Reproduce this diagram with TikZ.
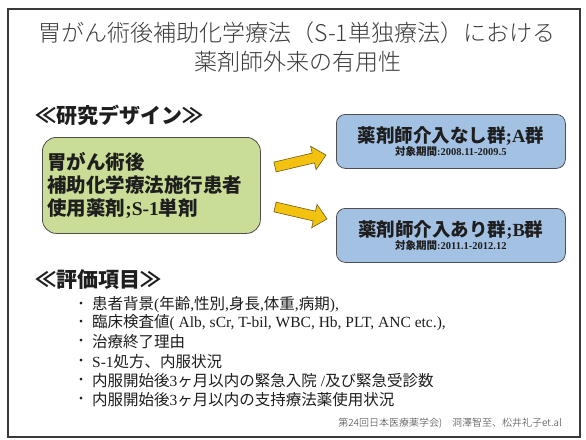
\documentclass[tikz,border=0pt]{standalone}
\usepackage{fontspec}
\setmainfont{Liberation Serif}
\newfontfamily\jp{Noto Sans CJK JP}
\newfontfamily\jplight{Noto Sans CJK JP Light}
\usetikzlibrary{calc}
\definecolor{framegray}{HTML}{3A3A3A}
\definecolor{boxborder}{HTML}{4F4F4F}
\definecolor{greenfill}{HTML}{C9DD96}
\definecolor{bluefill}{HTML}{A3C1E3}
\definecolor{arrowyellow}{HTML}{F3C20F}
\definecolor{arrowedge}{HTML}{6E5C1C}
\definecolor{textdark}{HTML}{1E1E1E}
\definecolor{textgray}{HTML}{3C3C3C}
\newcommand\lat[1]{{\rmfamily #1}}
\newcommand\J[1]{{\jp #1}}
\newcommand\fatarrowpath[2]{%
  \coordinate (h#2) at ($(#2)!13pt!(#1)$);
  \filldraw[fatarrow] ($(#1)!5pt!90:(#2)$) -- ($(h#2)!5pt!-90:(#1)$) -- ($(h#2)!12pt!-90:(#1)$) -- (#2) -- ($(h#2)!12pt!90:(#1)$) -- ($(h#2)!5pt!90:(#1)$) -- ($(#1)!5pt!-90:(#2)$) -- cycle;}
\begin{document}
\begin{tikzpicture}[x=1pt,y=-1pt,
  frame/.style={draw=framegray,line width=1.6pt},
  greenbox/.style={draw=boxborder, line width=0.8pt, fill=greenfill, rounded corners=14pt, minimum width=218pt, minimum height=96pt, anchor=north west, inner xsep=4pt, text width=208pt, align=left, text=textdark, font=\jp\bfseries\fontsize{19.5}{23}\selectfont},
  bluebox/.style={draw=boxborder, line width=0.8pt, fill=bluefill, rounded corners=9pt, minimum width=229pt, minimum height=54pt, anchor=north west, align=center, inner sep=0pt, text=textdark},
  fatarrow/.style={fill=arrowyellow, draw=arrowedge, line width=0.6pt, line join=miter},
  heading/.style={anchor=west, inner sep=0pt, text=textdark, font=\jp\bfseries\fontsize{21}{25}\selectfont},
  titletext/.style={anchor=center, inner sep=0pt, text=textgray, font=\jplight\fontsize{23}{26}\selectfont},
  itemtext/.style={anchor=west, inner sep=0pt, text=textdark, font=\fontsize{15.5}{18}\selectfont},
  bulletmark/.style={anchor=center, inner sep=0pt, text=textdark, font=\jp\fontsize{13}{15}\selectfont},
  footer/.style={anchor=east, inner sep=0pt, text=textgray, font=\jplight\fontsize{10}{12}\selectfont}
]
\useasboundingbox (0,0) rectangle (586,439);
\fill[white] (0,0) rectangle (586,439);
\draw[frame] (8,9) rectangle (580,437);

\node[titletext] (title1) at (297,33) {胃がん術後補助化学療法（S-1単独療法）における};
\node[titletext] (title2) at (298,62) {薬剤師外来の有用性};

\node[heading] (design) at (35,115) {≪研究デザイン≫};

\node[greenbox] (patients) at (42,137) {胃がん術後\\補助化学療法施行患者\\使用薬剤\lat{\bfseries ;S-1}単剤};

\node[bluebox] (groupA) at (336,114) {{\jp\bfseries\fontsize{18.5}{20}\selectfont 薬剤師介入なし群\lat{\bfseries ;A}群}\\[1pt]{\jp\bfseries\fontsize{10.5}{12}\selectfont 対象期間\lat{\bfseries :2008.11-2009.5}}};
\node[bluebox] (groupB) at (336,208) {{\jp\bfseries\fontsize{18.5}{20}\selectfont 薬剤師介入あり群\lat{\bfseries ;B}群}\\[1pt]{\jp\bfseries\fontsize{10.5}{12}\selectfont 対象期間\lat{\bfseries :2011.1-2012.12}}};

\coordinate (a1s) at (275,167);
\coordinate (a1t) at (326,155);
\coordinate (a2s) at (275,207);
\coordinate (a2t) at (327,219);
\fatarrowpath{a1s}{a1t}
\fatarrowpath{a2s}{a2t}

\node[heading] (evaluation) at (35,280) {≪評価項目≫};

\foreach \yy/\nm in {305/b1,323/b2,342/b3,362/b4,381/b5,400/b6}
  \node[bulletmark] (\nm) at (81,\yy) {・};

\node[itemtext] (i1) at (92,305) {\J{患者背景}(\J{年齢},\J{性別},\J{身長},\J{体重},\J{病期}),};
\node[itemtext] (i2) at (92,323) {\J{臨床検査値}( Alb, sCr, T-bil, WBC, Hb, PLT, ANC etc.),};
\node[itemtext] (i3) at (92,342) {\J{治療終了理由}};
\node[itemtext] (i4) at (92,362) {S-1\J{処方、内服状況}};
\node[itemtext] (i5) at (92,381) {\J{内服開始後}3\J{ヶ月以内の緊急入院} /\J{及び緊急受診数}};
\node[itemtext] (i6) at (92,400) {\J{内服開始後}3\J{ヶ月以内の支持療法薬使用状況}};

\node[footer] (credit) at (562,423) {第24回日本医療薬学会)\quad 洞澤智至、松井礼子et.al};
\end{tikzpicture}
\end{document}
